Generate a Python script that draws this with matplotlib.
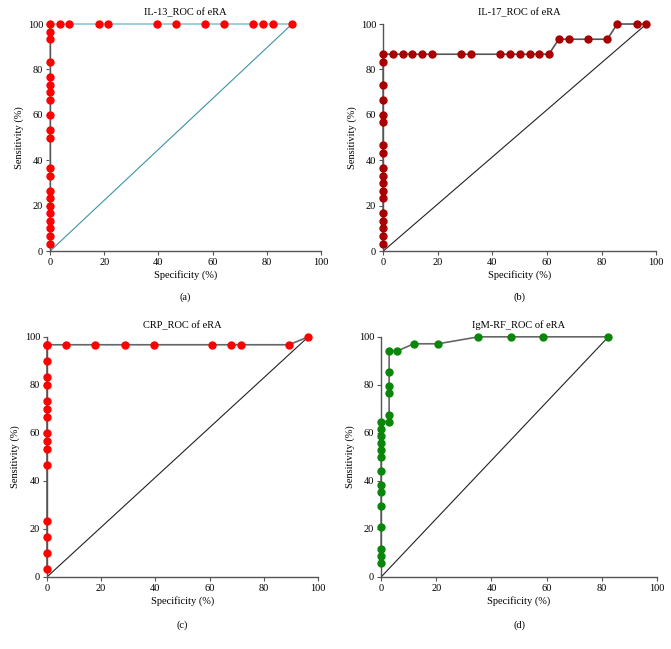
import numpy as np
import matplotlib
matplotlib.use("Agg")
import matplotlib.pyplot as plt

plt.rcParams["font.family"] = ["Liberation Serif", "DejaVu Serif"]

# IL-13 ROC
il13_spec = [0, 0, 0, 0, 0, 0, 0, 0, 0, 0, 0, 0, 0, 0, 0, 0, 0, 0, 0, 0, 0,
             3.6, 7.1, 17.9, 21.4, 39.3, 46.4, 57.1, 64.3, 75.0, 78.6, 82.1, 89.3]
il13_sens = [3.3, 6.7, 10, 13.3, 16.7, 20, 23.3, 26.7, 33.3, 36.7, 50, 53.3, 60,
             66.7, 70, 73.3, 76.7, 83.3, 93.3, 96.7, 100,
             100, 100, 100, 100, 100, 100, 100, 100, 100, 100, 100, 100]

# IL-17 ROC
il17_spec = [0] * 18 + [3.6, 7.1, 10.7, 14.3, 17.9, 28.6, 32.1, 42.9, 46.4, 50.0,
                        53.6, 57.1, 60.7, 64.3, 67.9, 75.0, 82.1, 85.7, 92.9, 96.4]
il17_sens = [3.3, 6.7, 10, 13.3, 16.7, 23.3, 26.7, 30, 33.3, 36.7, 43.3, 46.7,
             56.7, 60, 66.7, 73.3, 83.3, 86.7,
             86.7, 86.7, 86.7, 86.7, 86.7, 86.7, 86.7, 86.7, 86.7, 86.7, 86.7,
             86.7, 86.7, 93.3, 93.3, 93.3, 93.3, 100, 100, 100]

# CRP ROC
crp_spec = [0] * 16 + [7.1, 17.9, 28.6, 39.3, 60.7, 67.9, 71.4, 89.3, 96.4]
crp_sens = [3.3, 10, 16.7, 23.3, 46.7, 53.3, 56.7, 60, 66.7, 70, 73.3, 80, 83.3,
            90, 96.7, 96.7,
            96.7, 96.7, 96.7, 96.7, 96.7, 96.7, 96.7, 96.7, 100]

# IgM-RF ROC
igm_spec = [0] * 14 + [2.9] * 6 + [5.9, 11.8, 20.6, 35.3, 47.1, 58.8, 82.4]
igm_sens = [5.9, 8.8, 11.8, 20.6, 29.4, 35.3, 38.2, 44.1, 50, 52.9, 55.9, 58.8,
            61.8, 64.7,
            64.7, 67.6, 76.5, 79.4, 85.3, 94.1,
            94.1, 97.1, 97.1, 100, 100, 100, 100]

panels = [
    ("IL-13_ROC of eRA", "(a)", il13_spec, il13_sens, "#ff0000", "#8cc6d4", "#3d93a6",
     [0.0745, 0.613, 0.404, 0.350]),
    ("IL-17_ROC of eRA", "(b)", il17_spec, il17_sens, "#a80000", "#555555", "#222222",
     [0.571, 0.613, 0.407, 0.350]),
    ("CRP_ROC of eRA", "(c)", crp_spec, crp_sens, "#ff0000", "#666666", "#222222",
     [0.070, 0.111, 0.404, 0.370]),
    ("IgM-RF_ROC of eRA", "(d)", igm_spec, igm_sens, "#0a860a", "#666666", "#222222",
     [0.568, 0.111, 0.411, 0.370]),
]

fig = plt.figure(figsize=(6.71, 6.49), dpi=100)

for title, tag, spec, sens, mcol, lcol, dcol, pos in panels:
    ax = fig.add_axes(pos)
    ax.plot(spec, sens, color=lcol, lw=1.2, zorder=2, clip_on=False)
    ax.plot([0, spec[-1]], [0, sens[-1]], color=dcol, lw=0.8, zorder=1)
    ax.plot(spec, sens, "o", color=mcol, ms=5, mec=mcol, zorder=3, clip_on=False)
    ax.set_xlim(0, 100)
    ax.set_ylim(0, 100)
    ax.set_xticks(range(0, 101, 20))
    ax.set_yticks(range(0, 101, 20))
    for s in ["top", "right"]:
        ax.spines[s].set_visible(False)
    for s in ["left", "bottom"]:
        ax.spines[s].set_color("#555555")
        ax.spines[s].set_linewidth(1.0)
    ax.tick_params(direction="out", length=3, width=0.8, color="#555555",
                   labelsize=7.5, pad=2)
    ax.set_title(title, fontsize=7.5, pad=6)
    ax.set_xlabel("Specificity (%)", fontsize=7.5, labelpad=2)
    ax.set_ylabel("Sensitivity (%)", fontsize=7.5, labelpad=3)
    ax.text(0.5, -0.18, tag, transform=ax.transAxes, ha="center", va="top",
            fontsize=7.5)

fig.savefig("out.png", dpi=100)
